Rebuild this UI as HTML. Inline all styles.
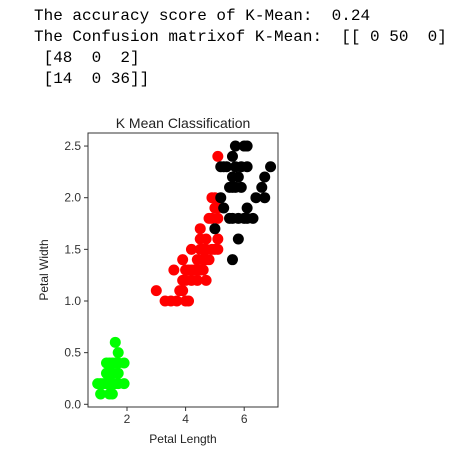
<!DOCTYPE html>
<html><head><meta charset="utf-8"><style>
body{margin:0;width:462px;height:461px;background:#fff;overflow:hidden;position:relative}
pre{position:absolute;left:34px;top:6px;margin:0;font-family:"Liberation Mono",monospace;font-size:16px;line-height:21px;color:#000}
svg{position:absolute;left:0;top:0}
</style></head><body>
<pre>The accuracy score of K-Mean:  0.24
The Confusion matrixof K-Mean:  [[ 0 50  0]
 [48  0  2]
 [14  0 36]]</pre>
<svg id="chart" width="462" height="461" font-family="Liberation Sans, DejaVu Sans, sans-serif"></svg>
<script>
const greenX=[1.0,1.1,1.2,1.3,1.4,1.5,1.6,1.7,1.9,1.1,1.4,1.5,1.3,1.4,1.5,1.7,1.3,1.4,1.5,1.6,1.7,1.9,1.7,1.6];
const greenY=[0.2,0.2,0.2,0.2,0.2,0.2,0.2,0.2,0.2,0.1,0.1,0.1,0.3,0.3,0.3,0.3,0.4,0.4,0.4,0.4,0.4,0.4,0.5,0.6];
const redX=[3.3,3.5,3.7,4.0,4.1,3.0,3.8,3.9,3.9,4.0,4.2,4.4,4.7,3.6,4.0,4.1,4.2,4.3,4.4,4.5,4.6,3.9,4.4,4.6,4.7,4.8,4.2,4.5,4.6,4.7,4.9,5.0,5.1,4.5,4.7,5.1,4.5,4.8,4.9,5.1,5.0,5.1,4.9,5.0,5.1];
const redY=[1.0,1.0,1.0,1.0,1.0,1.1,1.1,1.1,1.2,1.2,1.2,1.2,1.2,1.3,1.3,1.3,1.3,1.3,1.3,1.3,1.3,1.4,1.4,1.4,1.4,1.4,1.5,1.5,1.5,1.5,1.5,1.5,1.5,1.6,1.6,1.6,1.7,1.8,1.8,1.8,1.9,1.9,2.0,2.0,2.4];
const blackX=[5.6,5.8,5.0,5.5,5.6,5.8,6.0,6.1,6.3,5.3,6.1,5.2,6.4,6.7,5.5,5.6,5.7,5.9,6.6,5.6,5.8,6.7,5.2,5.3,5.4,5.7,5.9,6.1,6.9,5.6,5.7,6.0,6.1];
const blackY=[1.4,1.6,1.7,1.8,1.8,1.8,1.8,1.8,1.8,1.9,1.9,2.0,2.0,2.0,2.1,2.1,2.1,2.1,2.1,2.2,2.2,2.2,2.3,2.3,2.3,2.3,2.3,2.3,2.3,2.4,2.5,2.5,2.5];
const xTicks=[2,4,6];
const yTicks=[0.0,0.5,1.0,1.5,2.0,2.5];
const L=88,R=278,T=133,B=407;
const sx=v=>127+(v-2)*29.3;
const sy=v=>404.3-v*103.3;
const svg=document.getElementById('chart');
const NS='http://www.w3.org/2000/svg';
function mk(t,a){const e=document.createElementNS(NS,t);for(const k in a)e.setAttribute(k,a[k]);svg.appendChild(e);return e;}
function series(xs,ys,col,name){xs.forEach((x,i)=>{const c=mk('circle',{cx:sx(x),cy:sy(ys[i]),r:5.5,fill:col});

});}
series(greenX,greenY,'#00ff00','cluster-green');
series(redX,redY,'#ff0000','cluster-red');
series(blackX,blackY,'#000000','cluster-black');
const fr=mk('rect',{x:L,y:T,width:R-L,height:B-T,fill:'none',stroke:'#333','stroke-width':1});


xTicks.forEach(v=>{mk('line',{x1:sx(v),x2:sx(v),y1:B,y2:B+4,stroke:'#333'});
const t=mk('text',{x:sx(v),y:B+16,'font-size':12,'text-anchor':'middle',fill:'#333'});t.textContent=v;

});
yTicks.forEach(v=>{mk('line',{x1:L-4,x2:L,y1:sy(v),y2:sy(v),stroke:'#333'});
const t=mk('text',{x:L-7,y:sy(v)+4,'font-size':12,'text-anchor':'end',fill:'#333'});t.textContent=v.toFixed(1);

});
const ti=mk('text',{x:(L+R)/2,y:T-5,'font-size':14,'text-anchor':'middle',fill:'#222'});ti.textContent='K Mean Classification';


const xl=mk('text',{x:183,y:443,'font-size':12,'text-anchor':'middle',fill:'#222'});xl.textContent='Petal Length';


const yl=mk('text',{x:0,y:0,'font-size':12,'text-anchor':'middle',fill:'#222',transform:'translate(48,270) rotate(-90)'});yl.textContent='Petal Width';


</script>
</body></html>
